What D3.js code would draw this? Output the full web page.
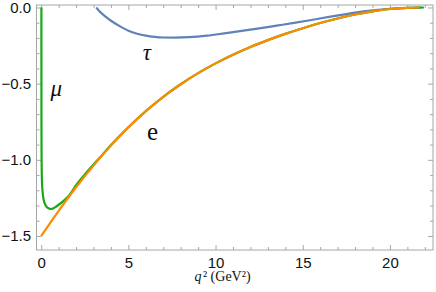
<!DOCTYPE html>
<html>
<head>
<meta charset="utf-8">
<script src="https://d3js.org/d3.v7.min.js"></script>
<style>
  body { margin: 0; background: #fff; }
  svg { display: block; }
</style>
</head>
<body>
<div class="vis"></div>
<script>
  // electron channel
  const qE   = [0, 1, 2, 3, 4, 5, 6, 7, 8, 9, 10, 11, 12, 13, 14, 15, 16, 17, 18, 19, 20, 21, 21.7];
  const valE = [-1.5, -1.335, -1.18, -1.038, -0.906, -0.787, -0.68, -0.586, -0.504, -0.431, -0.367, -0.31, -0.259, -0.214, -0.173, -0.136, -0.102, -0.072, -0.046, -0.025, -0.01, -0.002, 0];

  // muon channel
  const qMu   = [0.0112, 0.0115, 0.0125, 0.015, 0.02, 0.03, 0.05, 0.08, 0.12, 0.17, 0.25, 0.33, 0.45, 0.56, 0.7, 0.84, 1.0, 1.3, 1.61, 2, 2.5, 3, 3.5, 4, 5, 6, 7, 8, 9, 10, 11, 12, 13, 14, 15, 16, 17, 18, 19, 20, 21, 21.95];
  const valMu = [0, -0.25, -0.5, -0.75, -0.95, -1.07, -1.16, -1.21, -1.25, -1.275, -1.298, -1.311, -1.32, -1.323, -1.318, -1.308, -1.295, -1.268, -1.232, -1.167, -1.096, -1.03, -0.968, -0.903, -0.786, -0.68, -0.586, -0.504, -0.431, -0.367, -0.31, -0.259, -0.214, -0.173, -0.136, -0.102, -0.072, -0.046, -0.025, -0.01, -0.002, 0];

  // tau channel
  const qTau   = [3.16, 3.3, 3.6, 4, 4.5, 5, 5.5, 6, 6.5, 7, 7.7, 8.5, 9.5, 10.5, 11.5, 12.5, 13.5, 14.5, 15.5, 16.5, 17.5, 18.5, 19.5, 20.5, 21.5, 21.8];
  const valTau = [0, -0.02, -0.052, -0.087, -0.122, -0.152, -0.172, -0.185, -0.193, -0.197, -0.198, -0.195, -0.185, -0.17, -0.154, -0.137, -0.119, -0.101, -0.082, -0.062, -0.043, -0.026, -0.013, -0.005, -0.001, 0];

  const xMajor = [0, 5, 10, 15, 20];
  const yMajor = [0, -0.5, -1, -1.5];

  const width = 436, height = 292;
  const mLeft = 36.5, mRight = 433, mTop = 5, mBottom = 250;

  const serif = "'Liberation Serif', 'Times New Roman', serif";
  const sans = "'Liberation Sans', Arial, sans-serif";

  const svg = d3.select('.vis').append('svg')
    .attr('width', width)
    .attr('height', height);

  const x = d3.scaleLinear().domain([-0.27, 22.47]).range([mLeft, mRight]);
  const y = d3.scaleLinear().domain([-1.592, 0.0164]).range([mBottom, mTop]);

  const xMinor = d3.range(0, 23, 1).filter(d => d % 5 != 0);
  const yMinor = d3.range(-15, 1, 1).map(d => d / 10).filter(d => Math.round(d * 10) % 5 != 0);

  const gray = '#a6a6a6';

  function styleAxis(g) {
    g.select('.domain').remove();
    g.selectAll('line').attr('stroke', gray).attr('stroke-width', 1);
    g.selectAll('text')
      .attr('font-family', sans)
      .attr('font-size', 15)
      .attr('fill', '#111');
  }

  // bottom
  svg.append('g').attr('transform', `translate(0,${mBottom})`)
    .call(d3.axisBottom(x).tickValues(xMajor).tickSize(-5).tickPadding(7).tickFormat(d3.format('d')))
    .call(styleAxis);
  svg.append('g').attr('transform', `translate(0,${mBottom})`)
    .call(d3.axisBottom(x).tickValues(xMinor).tickSize(-3).tickFormat(''))
    .call(styleAxis);
  // top
  svg.append('g').attr('transform', `translate(0,${mTop})`)
    .call(d3.axisTop(x).tickValues(xMajor).tickSize(-5).tickFormat(''))
    .call(styleAxis);
  svg.append('g').attr('transform', `translate(0,${mTop})`)
    .call(d3.axisTop(x).tickValues(xMinor).tickSize(-3).tickFormat(''))
    .call(styleAxis);
  // left
  svg.append('g').attr('transform', `translate(${mLeft},0)`)
    .call(d3.axisLeft(y).tickValues(yMajor).tickSize(-5).tickPadding(5.5).tickFormat(d3.format('.1f')))
    .call(styleAxis);
  svg.append('g').attr('transform', `translate(${mLeft},0)`)
    .call(d3.axisLeft(y).tickValues(yMinor).tickSize(-3).tickFormat(''))
    .call(styleAxis);
  // right
  svg.append('g').attr('transform', `translate(${mRight},0)`)
    .call(d3.axisRight(y).tickValues(yMajor).tickSize(-5).tickFormat(''))
    .call(styleAxis);
  svg.append('g').attr('transform', `translate(${mRight},0)`)
    .call(d3.axisRight(y).tickValues(yMinor).tickSize(-3).tickFormat(''))
    .call(styleAxis);

  // frame
  svg.append('rect')
    .attr('x', mLeft).attr('y', mTop)
    .attr('width', mRight - mLeft).attr('height', mBottom - mTop)
    .attr('fill', 'none').attr('stroke', gray).attr('stroke-width', 1);

  const line = d3.line()
    .x(d => x(d[0]))
    .y(d => y(d[1]))
    .curve(d3.curveMonotoneX);

  const series = [
    { name: 'tau', q: qTau, v: valTau, color: '#5f83b8' },
    { name: 'mu', q: qMu, v: valMu, color: '#16ab16' },
    { name: 'e', q: qE, v: valE, color: '#ff8a00' }
  ];

  svg.append('g')
    .selectAll('path')
    .data(series)
    .join('path')
    .attr('d', s => line(d3.zip(s.q, s.v)))
    .attr('fill', 'none')
    .attr('stroke', s => s.color)
    .attr('stroke-width', 2.2)
    .attr('stroke-linejoin', 'round');

  // curve labels
  const labels = [
    { text: 'μ', q: 0.87, v: -0.581, italic: true, size: 23 },
    { text: 'τ', q: 6.06, v: -0.347, italic: true, size: 23 },
    { text: 'e', q: 6.38, v: -0.87, italic: false, size: 25 }
  ];
  svg.append('g')
    .selectAll('text')
    .data(labels)
    .join('text')
    .attr('x', d => x(d.q))
    .attr('y', d => y(d.v))
    .attr('text-anchor', 'middle')
    .attr('font-family', serif)
    .attr('font-style', d => d.italic ? 'italic' : 'normal')
    .attr('font-size', d => d.size)
    .attr('fill', '#111')
    .text(d => d.text);

  // x-axis title
  const title = svg.append('text')
    .attr('x', 222.5)
    .attr('y', 281)
    .attr('text-anchor', 'middle')
    .attr('font-family', serif)
    .attr('font-size', 14)
    .attr('fill', '#111');
  title.append('tspan').attr('font-style', 'italic').text('q');
  title.append('tspan').attr('dx', 1.5).text('\u00b2 (GeV\u00b2)');
</script>
</body>
</html>
